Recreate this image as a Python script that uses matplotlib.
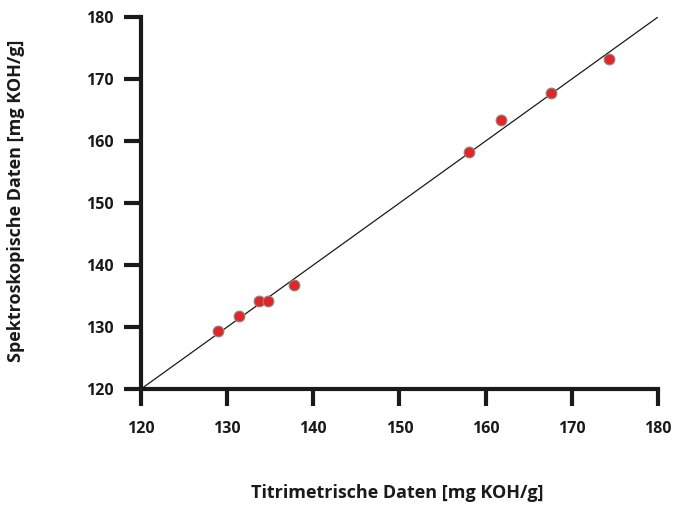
import matplotlib.pyplot as plt

# data
titr = [128.9, 131.4, 133.7, 134.7, 137.7, 158.1, 161.8, 167.6, 174.3]
spek = [129.4, 131.8, 134.2, 134.2, 136.8, 158.2, 163.4, 167.7, 173.2]
ticks = [120, 130, 140, 150, 160, 170, 180]
ideal = [120, 180]

plt.rcParams['font.family'] = ['Open Sans', 'DejaVu Sans']

fig = plt.figure(figsize=(6.73, 5.05), dpi=100)
ax = fig.add_axes([0.2095, 0.2297, 0.7682, 0.7366])

ax.plot(ideal, ideal, color='#1a1a1a', lw=0.9, zorder=2)
ax.scatter(titr, spek, s=60, color='#e32526', edgecolors='#8a8a8a',
           linewidths=0.8, zorder=3, clip_on=False)

ax.set_xlim(120, 180)
ax.set_ylim(120, 180)
ax.set_xticks(ticks)
ax.set_yticks(ticks)

for s in ['top', 'right']:
    ax.spines[s].set_visible(False)
for s in ['left', 'bottom']:
    ax.spines[s].set_linewidth(3)
    ax.spines[s].set_color('#1a1a1a')

ax.tick_params(axis='both', direction='out', length=12, width=3,
               color='#1a1a1a', labelsize=11.5)
ax.tick_params(axis='x', pad=11)
ax.tick_params(axis='y', pad=8)
for lab in ax.get_xticklabels() + ax.get_yticklabels():
    lab.set_fontweight('bold')
    lab.set_color('#1a1a1a')

fig.text(397 / 673, 1 - 493 / 505, 'Titrimetrische Daten [mg KOH/g]',
         fontsize=13, fontweight='bold', color='#1a1a1a',
         ha='center', va='center')
fig.text(16 / 673, 1 - 201 / 505, 'Spektroskopische Daten [mg KOH/g]',
         fontsize=13, fontweight='bold', color='#1a1a1a',
         ha='center', va='center', rotation=90)

fig.savefig('out.png', dpi=100)
